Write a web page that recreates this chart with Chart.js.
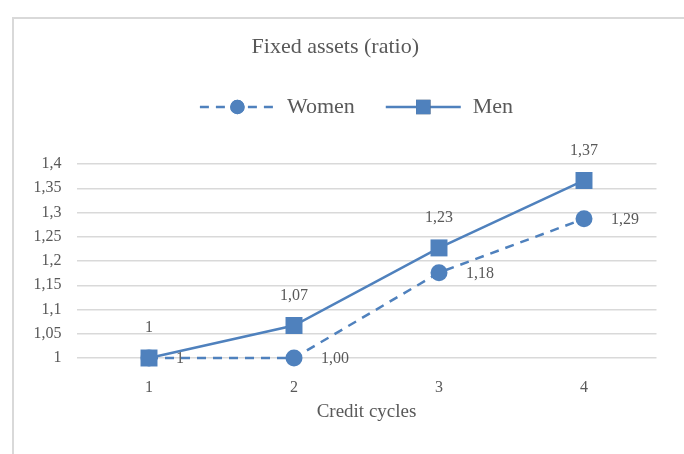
<!DOCTYPE html>
<html>
<head>
<meta charset="utf-8">
<script src="https://cdn.jsdelivr.net/npm/chart.js@4.4.0/dist/chart.umd.min.js"></script>
<style>
html, body { margin: 0; padding: 0; background: #fff; overflow: hidden; }
.frame { position: absolute; left: 12px; top: 17px; width: 672px; height: 440px; border: 2px solid #d9d9d9; }
</style>
</head>
<body>
<div class="frame"><canvas id="chart" width="672" height="440"></canvas></div>
<script>
// Data
var cycles = ["1", "2", "3", "4"];
var women = [1, 1.0, 1.176, 1.287];
var men = [1, 1.067, 1.227, 1.366];
var womenLabels = ["1", "1,00", "1,18", "1,29"];
var menLabels = ["1", "1,07", "1,23", "1,37"];

var blue = "#4f81bd";
var grey = "#595959";
var serif = "'Liberation Serif', 'DejaVu Serif', serif";

function comma(v) {
    return String(Number(v.toFixed(2))).replace(".", ",");
}

//Legend with line + marker, like the spreadsheet one
var lineLegend = {
    id: "lineLegend",
    afterDraw: function (chart) {
        var ctx = chart.ctx;
        var y = 88;
        var lineLen = 75, textGap = 12, itemGap = 31;
        ctx.save();
        ctx.font = "22px " + serif;
        var total = 0;
        chart.data.datasets.forEach(function (ds, i) {
            total += lineLen + textGap + ctx.measureText(ds.label).width;
            if (i > 0) total += itemGap;
        });
        var x = chart.width / 2 + 6.5 - total / 2;
        chart.data.datasets.forEach(function (ds) {
            ctx.strokeStyle = ds.borderColor;
            ctx.lineWidth = ds.borderWidth;
            ctx.setLineDash(ds.borderDash || []);
            ctx.beginPath();
            ctx.moveTo(x, y);
            ctx.lineTo(x + lineLen, y);
            ctx.stroke();
            ctx.setLineDash([]);
            Chart.helpers.drawPoint(ctx, {
                pointStyle: ds.pointStyle,
                radius: ds.pointRadius * 0.85,
                borderWidth: 0
            }, x + lineLen / 2, y);
            ctx.fillStyle = ds.backgroundColor;
            ctx.fill();
            ctx.fillStyle = grey;
            ctx.textAlign = "left";
            ctx.textBaseline = "middle";
            ctx.fillText(ds.label, x + lineLen + textGap, y);
            x += lineLen + textGap + ctx.measureText(ds.label).width + itemGap;
        });
        ctx.restore();
    }
};

//Value labels
var valueLabels = {
    id: "valueLabels",
    afterDatasetsDraw: function (chart) {
        var ctx = chart.ctx;
        ctx.save();
        ctx.font = "16px " + serif;
        ctx.fillStyle = grey;
        ctx.textBaseline = "middle";
        chart.data.datasets.forEach(function (ds, i) {
            var meta = chart.getDatasetMeta(i);
            meta.data.forEach(function (pt, j) {
                if (ds.labelPos === "above") {
                    ctx.textAlign = "center";
                    ctx.fillText(ds.valueLabels[j], pt.x, pt.y - 30);
                } else {
                    ctx.textAlign = "left";
                    ctx.fillText(ds.valueLabels[j], pt.x + 27, pt.y + 1);
                }
            });
        });
        ctx.restore();
    }
};

var chart = new Chart(document.getElementById("chart"), {
    type: "line",
    data: {
        labels: cycles,
        datasets: [
            {
                label: "Women",
                data: women,
                valueLabels: womenLabels,
                labelPos: "right",
                borderColor: blue,
                backgroundColor: blue,
                borderWidth: 2.5,
                borderDash: [9, 7],
                pointStyle: "circle",
                pointRadius: 8.5,
                pointBorderWidth: 0,
                clip: false,
                tension: 0
            },
            {
                label: "Men",
                data: men,
                valueLabels: menLabels,
                labelPos: "above",
                borderColor: blue,
                backgroundColor: blue,
                borderWidth: 2.5,
                pointStyle: "rect",
                pointRadius: 12,
                pointBorderWidth: 0,
                clip: false,
                tension: 0
            }
        ]
    },
    options: {
        responsive: false,
        animation: false,
        layout: { padding: { left: 0, right: 29.5, top: 0, bottom: 0 } },
        plugins: {
            legend: { display: false },
            tooltip: { enabled: false },
            title: {
                display: true,
                text: "Fixed assets (ratio)",
                color: grey,
                font: { family: serif, size: 22, weight: "normal" },
                padding: { top: 14.8, bottom: 103.8 }
            }
        },
        scales: {
            x: {
                offset: true,
                grid: { display: false },
                border: { display: false },
                ticks: { color: grey, padding: 12.4, font: { family: serif, size: 16 } },
                title: {
                    display: true,
                    text: "Credit cycles",
                    color: grey,
                    font: { family: serif, size: 19 },
                    padding: { top: 0, bottom: 35.6 }
                },
                afterFit: function (s) { s.height = 101; }
            },
            y: {
                min: 1,
                max: 1.4,
                grid: { color: "#d9d9d9", lineWidth: 1.5, drawTicks: false },
                border: { display: false },
                ticks: {
                    stepSize: 0.05,
                    color: grey,
                    padding: 15,
                    font: { family: serif, size: 16 },
                    callback: function (v) { return comma(v); }
                },
                afterFit: function (s) { s.width = 62.5; }
            }
        }
    },
    plugins: [lineLegend, valueLabels]
});
</script>
</body>
</html>
